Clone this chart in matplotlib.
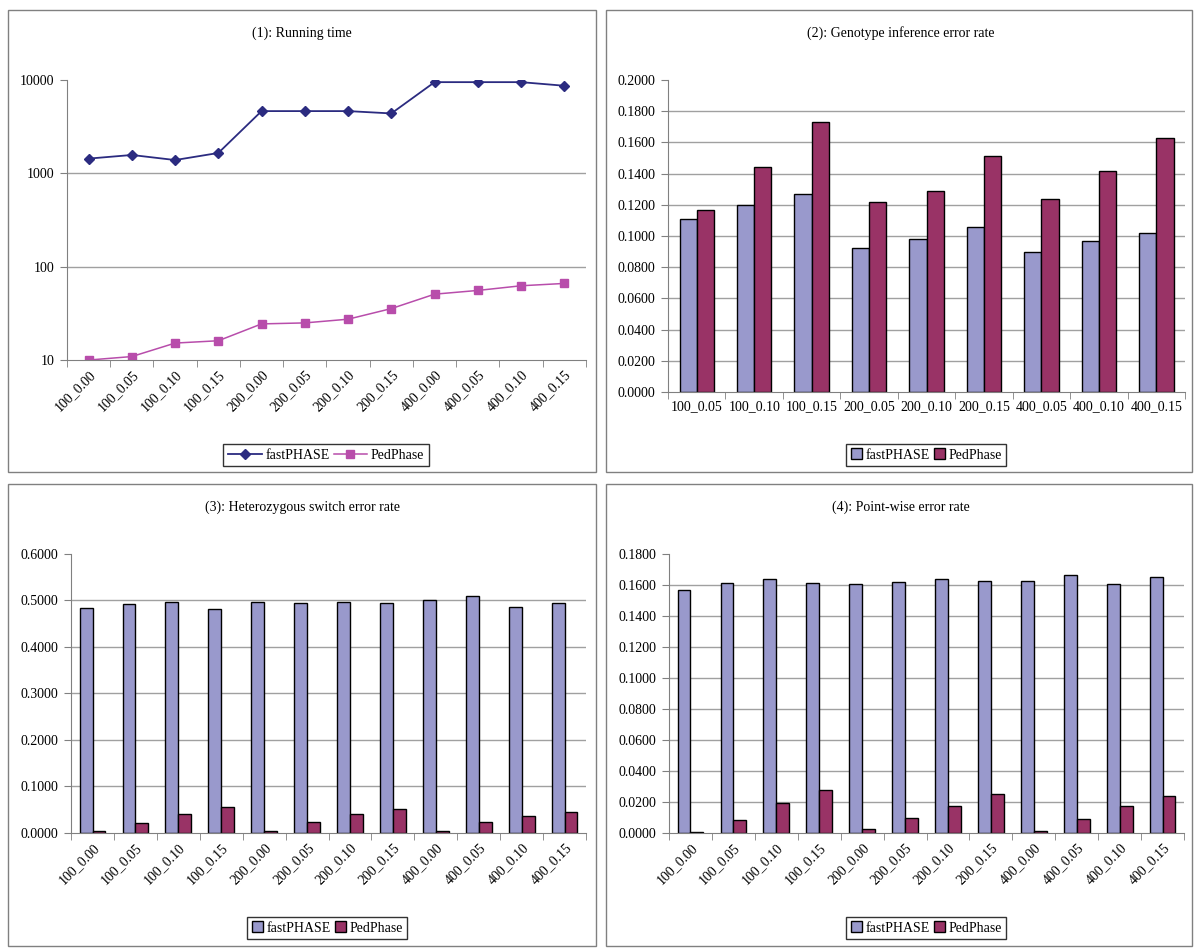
import matplotlib
matplotlib.use("Agg")
import matplotlib.pyplot as plt
from matplotlib.patches import Rectangle
from matplotlib.ticker import FixedLocator, NullFormatter
import numpy as np

plt.rcParams['font.family'] = ['Liberation Serif', 'DejaVu Serif']
plt.rcParams['font.size'] = 10

# categories
cats_all = ["100_0.00", "100_0.05", "100_0.10", "100_0.15",
            "200_0.00", "200_0.05", "200_0.10", "200_0.15",
            "400_0.00", "400_0.05", "400_0.10", "400_0.15"]
cats_err = ["100_0.05", "100_0.10", "100_0.15",
            "200_0.05", "200_0.10", "200_0.15",
            "400_0.05", "400_0.10", "400_0.15"]

# (1) running time
time_fast = [1440, 1575, 1390, 1655, 4650, 4650, 4650, 4390, 9500, 9500, 9500, 8690]
time_ped = [10.0, 10.9, 15.2, 16.1, 24.4, 25.0, 27.4, 35.6, 50.8, 55.7, 62.5, 66.2]

# (2) genotype inference error rate
geno_fast = [0.1108, 0.1198, 0.1268, 0.0924, 0.0978, 0.1059, 0.0898, 0.0971, 0.1022]
geno_ped = [0.1168, 0.1444, 0.1733, 0.1221, 0.1290, 0.1512, 0.1236, 0.1420, 0.1628]

# (3) heterozygous switch error rate
het_fast = [0.4846, 0.4918, 0.4968, 0.4817, 0.4968, 0.4939, 0.4968, 0.4939, 0.5018, 0.5097, 0.4867, 0.4939]
het_ped = [0.0050, 0.0208, 0.0416, 0.0566, 0.0050, 0.0229, 0.0416, 0.0516, 0.0050, 0.0229, 0.0358, 0.0459]

# (4) point-wise error rate
pw_fast = [0.1570, 0.1613, 0.1637, 0.1613, 0.1606, 0.1622, 0.1637, 0.1628, 0.1628, 0.1667, 0.1606, 0.1652]
pw_ped = [0.0009, 0.0084, 0.0194, 0.0277, 0.0024, 0.0099, 0.0176, 0.0254, 0.0015, 0.0090, 0.0176, 0.0239]

NAVY = "#2b2b80"
MAGENTA = "#b84dab"
BLUE_BAR = "#9999cc"
RED_BAR = "#993366"
GRID = "#a0a0a0"
SPINE = "#808080"

fig = plt.figure(figsize=(12, 9.52), dpi=100)

# panel frames
for (x0, y0, x1, y1) in [(8, 10, 596, 472), (606, 10, 1192, 472),
                         (8, 484, 596, 946), (606, 484, 1192, 946)]:
    fig.patches.append(Rectangle((x0 / 1200, 1 - y1 / 952), (x1 - x0) / 1200, (y1 - y0) / 952,
                                 transform=fig.transFigure, fill=False,
                                 edgecolor=SPINE, linewidth=1))


def style_axis(ax, n, ticks, rotate):
    for s in ["top", "right"]:
        ax.spines[s].set_visible(False)
    for s in ["left", "bottom"]:
        ax.spines[s].set_color(SPINE)
    ax.set_xlim(-0.5, n - 0.5)
    ax.set_xticks(np.arange(n))
    ax.xaxis.set_minor_locator(FixedLocator(np.arange(n + 1) - 0.5))
    ax.tick_params(axis="x", which="major", length=0, pad=6)
    ax.tick_params(axis="x", which="minor", length=5, color=SPINE, direction="out")
    ax.tick_params(axis="y", length=5, color=SPINE, direction="out", pad=4)
    ax.set_xticklabels(ticks, rotation=45 if rotate else 0,
                       ha="right" if rotate else "center",
                       rotation_mode="anchor" if rotate else "default")
    ax.set_axisbelow(True)


def add_grid(ax, values):
    for v in values:
        ax.axhline(v, color=GRID, linewidth=1, zorder=0)


def bars(ax, cats, fast, ped, ymax, step, rotate):
    x = np.arange(len(cats))
    ax.bar(x - 0.15, fast, width=0.3, color=BLUE_BAR, edgecolor="black", linewidth=1, label="fastPHASE")
    ax.bar(x + 0.15, ped, width=0.3, color=RED_BAR, edgecolor="black", linewidth=1, label="PedPhase")
    ax.set_ylim(0, ymax)
    yt = np.arange(0, ymax + step / 2, step)
    ax.set_yticks(yt)
    ax.set_yticklabels(["%.4f" % v for v in yt])
    add_grid(ax, yt[1:-1])
    style_axis(ax, len(cats), cats, rotate)


def legend(ax, cx, cy, hl):
    ax.legend(loc="center", bbox_to_anchor=(cx, cy), bbox_transform=fig.transFigure,
              ncol=2, frameon=True, fancybox=False, edgecolor="black",
              handlelength=hl, handletextpad=0.25, columnspacing=0.3,
              borderpad=0.35, fontsize=10, handleheight=0.8)


# (1)
ax1 = fig.add_axes([0.0558, 0.6218, 0.4325, 0.2941])
x = np.arange(len(cats_all))
ax1.plot(x, time_fast, color=NAVY, marker="D", markersize=5.5, linewidth=1.3, label="fastPHASE")
ax1.plot(x, time_ped, color=MAGENTA, marker="s", markersize=5.5, linewidth=1.1, label="PedPhase")
ax1.set_yscale("log")
ax1.set_ylim(10, 10000)
ax1.set_yticks([10, 100, 1000, 10000])
ax1.set_yticklabels(["10", "100", "1000", "10000"])
ax1.yaxis.set_minor_formatter(NullFormatter())
add_grid(ax1, [100, 1000])
style_axis(ax1, len(cats_all), cats_all, True)
ax1.tick_params(axis="y", which="minor", length=0)
legend(ax1, 0.2717, 0.522, 2.4)
fig.text(0.2517, 0.9653, "(1): Running time", ha="center", va="center", fontsize=10)

# (2)
ax2 = fig.add_axes([0.5567, 0.5882, 0.4308, 0.3277])
bars(ax2, cats_err, geno_fast, geno_ped, 0.2, 0.02, False)
legend(ax2, 0.7717, 0.522, 0.8)
fig.text(0.751, 0.9653, "(2): Genotype inference error rate", ha="center", va="center", fontsize=10)

# (3)
ax3 = fig.add_axes([0.0592, 0.125, 0.4292, 0.2931])
bars(ax3, cats_all, het_fast, het_ped, 0.6, 0.1, True)
legend(ax3, 0.2725, 0.0252, 0.8)
fig.text(0.2517, 0.4674, "(3): Heterozygous switch error rate", ha="center", va="center", fontsize=10)

# (4)
ax4 = fig.add_axes([0.5575, 0.125, 0.4292, 0.2931])
bars(ax4, cats_all, pw_fast, pw_ped, 0.18, 0.02, True)
legend(ax4, 0.7717, 0.0252, 0.8)
fig.text(0.751, 0.4674, "(4): Point-wise error rate", ha="center", va="center", fontsize=10)

fig.savefig("out.png", dpi=100)
